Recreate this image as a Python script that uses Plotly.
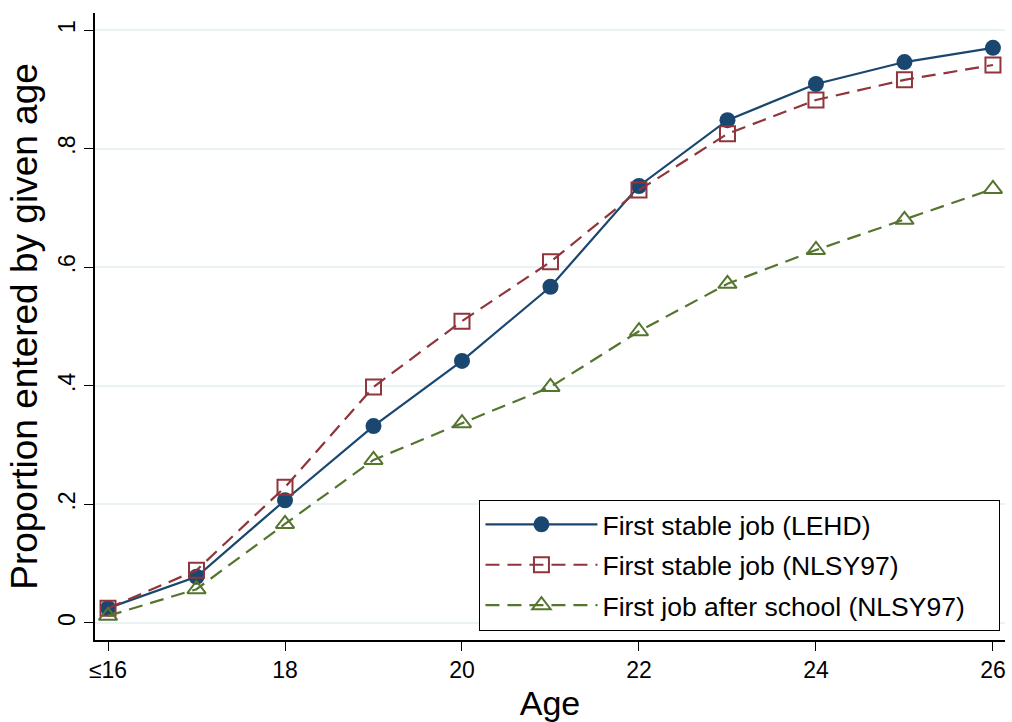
import plotly.graph_objects as go

ages = [16, 17, 18, 19, 20, 21, 22, 23, 24, 25, 26]
lehd = [0.025, 0.078, 0.207, 0.332, 0.442, 0.567, 0.737, 0.848, 0.909, 0.946, 0.970]
nlsy_stable = [0.025, 0.089, 0.229, 0.398, 0.509, 0.609, 0.730, 0.825, 0.882, 0.916, 0.941]
nlsy_school = [0.012, 0.057, 0.167, 0.275, 0.337, 0.398, 0.492, 0.572, 0.629, 0.680, 0.732]
series_names = ["First stable job (LEHD)", "First stable job (NLSY97)", "First job after school (NLSY97)"]

x_tickvals = [16, 18, 20, 22, 24, 26]
x_ticktext = ["≤16", "18", "20", "22", "24", "26"]
y_tickvals = [0, 0.2, 0.4, 0.6, 0.8, 1]
y_ticktext = ["0", ".2", ".4", ".6", ".8", "1"]

navy = "#1a476f"
maroon = "#90353b"
green = "#55752f"
font = "Liberation Sans, Arial, sans-serif"
pad = "\u00a0" * 4  # right padding inside legend box

fig = go.Figure()
fig.add_trace(go.Scatter(x=ages, y=lehd, mode="lines+markers", name=series_names[0] + pad,
                         legendgroup="a",
                         line=dict(color=navy, width=2.2),
                         marker=dict(symbol="circle", size=16, color=navy)))
fig.add_trace(go.Scatter(x=ages, y=nlsy_stable, mode="lines+markers", name=series_names[1] + pad,
                         legendgroup="b",
                         line=dict(color=maroon, width=2.2, dash="14px,8px"),
                         marker=dict(symbol="square-open", size=15, color=maroon, line=dict(width=2))))
fig.add_trace(go.Scatter(x=ages, y=nlsy_school, mode="lines+markers", name=series_names[2] + pad,
                         legendgroup="c",
                         line=dict(color=green, width=2.2, dash="14px,8px"),
                         marker=dict(symbol="triangle-up-open", size=16, color=green, line=dict(width=2))))

fig.update_layout(
    width=1012, height=722,
    margin=dict(l=95, r=7, t=13, b=82),
    paper_bgcolor="white", plot_bgcolor="white",
    font=dict(family=font, size=23, color="black"),
    showlegend=True,
    legend=dict(x=0.995, y=0.015, xanchor="right", yanchor="bottom",
                bordercolor="black", borderwidth=1, bgcolor="white",
                font=dict(size=26.5), itemwidth=112, tracegroupgap=3),
    xaxis=dict(range=[15.853, 26.136], tickvals=x_tickvals, ticktext=x_ticktext,
               tickfont=dict(size=23),
               showline=True, linecolor="black", linewidth=1.5, mirror=False,
               ticks="outside", ticklen=9, tickcolor="black", showgrid=False, zeroline=False,
               title=dict(text="Age", font=dict(size=34), standoff=9)),
    yaxis=dict(range=[-0.0287, 1.0287], tickvals=y_tickvals, ticktext=y_ticktext,
               tickfont=dict(size=23),
               showline=True, linecolor="black", linewidth=1.5, mirror=False,
               ticks="outside", ticklen=9, tickcolor="black", tickangle=-90,
               showgrid=True, gridcolor="#eaf2f3", gridwidth=1.5, zeroline=False,
               title=dict(text="Proportion entered by given age", font=dict(size=37), standoff=5)),
)

fig.write_html("out.html", config={"displayModeBar": False},
               post_script="document.body.style.margin='0';document.body.style.overflow='hidden';")
